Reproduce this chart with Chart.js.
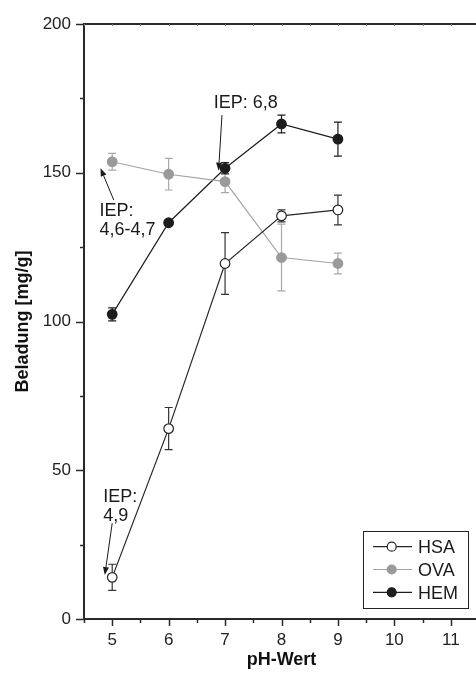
<!DOCTYPE html>
<html>
<head>
<meta charset="utf-8">
<script src="https://cdn.jsdelivr.net/npm/chart.js@4.4.1/dist/chart.umd.min.js"></script>
<style>
  html, body { margin: 0; padding: 0; background: #fff; overflow: hidden; }
  #wrap { width: 476px; height: 680px; overflow: hidden; position: relative; }
  canvas { display: block; }
</style>
</head>
<body>
<div id="wrap"><canvas id="c" width="490" height="680"></canvas></div>
<script>
// pH values and loading (Beladung, mg/g) with standard deviations
const pH = [5, 6, 7, 8, 9];
const hsa = [14, 64, 119.5, 135.5, 137.5];
const hsaErr = [4.4, 7.1, 10.4, 2, 5];
const ova = [153.7, 149.5, 147, 121.5, 119.5];
const ovaErr = [2.8, 5.3, 3.7, 11.2, 3.5];
const hem = [102.4, 133.2, 151.5, 166.4, 161.3];
const hemErr = [2.2, 0.8, 1.9, 3, 5.7];

// labelled ticks
const xTicks = [5, 6, 7, 8, 9, 10, 11];
const yTicks = [0, 50, 100, 150, 200];

// isoelectric point notes: text lines, text anchor and arrow (data units)
const notes = [
  { lines: ['IEP: 6,8'], at: [6.80, 171.7], from: [6.945, 169.4], to: [6.885, 150.7] },
  { lines: ['IEP:', '4,6-4,7'], at: [4.775, 135.5], from: [5.028, 140.8], to: [4.793, 151.5] },
  { lines: ['IEP:', '4,9'], at: [4.841, 39.4], from: [5.0, 32.2], to: [4.869, 14.8] }
];

const FONT = "'Liberation Sans', Arial, Helvetica, sans-serif";
const AXIS = '#2a2a2a';

const series = [
  { label: 'HSA', y: hsa, err: hsaErr, line: '#262626', fill: '#ffffff', edge: '#262626', bar: '#333333' },
  { label: 'OVA', y: ova, err: ovaErr, line: '#a2a2a2', fill: '#9a9a9a', edge: '#9a9a9a', bar: '#a8a8a8' },
  { label: 'HEM', y: hem, err: hemErr, line: '#1c1c1c', fill: '#1c1c1c', edge: '#1c1c1c', bar: '#1c1c1c' }
];

const datasets = series.map(s => ({
  label: s.label,
  data: pH.map((x, i) => ({ x: x, y: s.y[i] })),
  errors: s.err,
  barColor: s.bar,
  borderColor: s.line,
  borderWidth: 1.2,
  pointRadius: 4.8,
  pointHoverRadius: 4.8,
  pointBackgroundColor: s.fill,
  pointBorderColor: s.edge,
  pointBorderWidth: 1.2,
  tension: 0,
  fill: false
}));

// axis ticks (major + minor), top frame line
const framePlugin = {
  id: 'frame',
  afterDraw(chart) {
    const ctx = chart.ctx, a = chart.chartArea;
    const xs = chart.scales.x, ys = chart.scales.y;
    ctx.save();
    ctx.strokeStyle = AXIS;
    ctx.lineWidth = 2;
    ctx.beginPath();
    ctx.moveTo(a.left - 1, a.top);
    ctx.lineTo(a.right + 20, a.top);
    ctx.stroke();
    ctx.lineWidth = 1.5;
    for (let v = 4.5; v <= 11.5 + 1e-9; v += 0.5) {
      const px = Math.round(xs.getPixelForValue(v)) + 0.5;
      const major = Math.abs(v - Math.round(v)) < 1e-6;
      ctx.beginPath();
      ctx.moveTo(px, a.bottom);
      ctx.lineTo(px, a.bottom + (major ? 7 : 4));
      ctx.stroke();
      ctx.save();
      ctx.strokeStyle = '#777';
      ctx.lineWidth = 1;
      ctx.beginPath();
      ctx.moveTo(px, a.top);
      ctx.lineTo(px, a.top + 2);
      ctx.stroke();
      ctx.restore();
    }
    for (let v = 0; v <= 200; v += 25) {
      const py = Math.round(ys.getPixelForValue(v)) + 0.5;
      const major = v % 50 === 0;
      ctx.beginPath();
      ctx.moveTo(a.left, py);
      ctx.lineTo(a.left - (major ? 8 : 4), py);
      ctx.stroke();
    }
    ctx.restore();
  }
};

// vertical error bars with caps
const errorPlugin = {
  id: 'errorBars',
  beforeDatasetsDraw(chart) {
    const ctx = chart.ctx;
    const xs = chart.scales.x, ys = chart.scales.y;
    ctx.save();
    chart.data.datasets.forEach(ds => {
      ctx.strokeStyle = ds.barColor;
      ctx.lineWidth = 1.2;
      ds.data.forEach((p, i) => {
        const e = ds.errors[i];
        const px = xs.getPixelForValue(p.x);
        const top = ys.getPixelForValue(p.y + e);
        const bot = ys.getPixelForValue(p.y - e);
        ctx.beginPath();
        ctx.moveTo(px, top); ctx.lineTo(px, bot);
        ctx.moveTo(px - 4, top); ctx.lineTo(px + 4, top);
        ctx.moveTo(px - 4, bot); ctx.lineTo(px + 4, bot);
        ctx.stroke();
      });
    });
    ctx.restore();
  }
};

// IEP notes with arrows, and the boxed legend
const notesPlugin = {
  id: 'notes',
  afterDatasetsDraw(chart) {
    const ctx = chart.ctx;
    const xs = chart.scales.x, ys = chart.scales.y;
    ctx.save();
    ctx.fillStyle = '#1a1a1a';
    ctx.strokeStyle = '#1a1a1a';
    ctx.font = '18px ' + FONT;
    ctx.textAlign = 'left';
    ctx.textBaseline = 'alphabetic';
    notes.forEach(n => {
      const tx = xs.getPixelForValue(n.at[0]);
      const ty = ys.getPixelForValue(n.at[1]);
      n.lines.forEach((t, k) => ctx.fillText(t, tx, ty + k * 19.5));
      const x0 = xs.getPixelForValue(n.from[0]), y0 = ys.getPixelForValue(n.from[1]);
      const x1 = xs.getPixelForValue(n.to[0]), y1 = ys.getPixelForValue(n.to[1]);
      const ang = Math.atan2(y1 - y0, x1 - x0);
      const hl = 8, hw = 3;
      const bx = x1 - hl * Math.cos(ang), by = y1 - hl * Math.sin(ang);
      ctx.lineWidth = 1;
      ctx.beginPath();
      ctx.moveTo(x0, y0); ctx.lineTo(bx, by);
      ctx.stroke();
      ctx.beginPath();
      ctx.moveTo(x1, y1);
      ctx.lineTo(bx + hw * Math.sin(ang), by - hw * Math.cos(ang));
      ctx.lineTo(bx - hw * Math.sin(ang), by + hw * Math.cos(ang));
      ctx.closePath();
      ctx.fill();
    });

    // legend box
    const L = { x: 363.5, y: 531.5, w: 105, h: 77 };
    ctx.lineWidth = 1;
    ctx.strokeStyle = '#222';
    ctx.strokeRect(L.x, L.y, L.w, L.h);
    chart.data.datasets.forEach((ds, i) => {
      const cy = 546.7 + i * 22.8;
      ctx.strokeStyle = ds.borderColor;
      ctx.lineWidth = 1.2;
      ctx.beginPath();
      ctx.moveTo(373, cy); ctx.lineTo(412, cy);
      ctx.stroke();
      ctx.beginPath();
      ctx.arc(391.7, cy, 4.5, 0, Math.PI * 2);
      ctx.fillStyle = ds.pointBackgroundColor;
      ctx.fill();
      ctx.strokeStyle = ds.pointBorderColor;
      ctx.stroke();
      ctx.fillStyle = '#1a1a1a';
      ctx.font = '18px ' + FONT;
      ctx.textBaseline = 'middle';
      ctx.fillText(ds.label, 418, cy + 1.5);
    });
    ctx.restore();
  }
};

new Chart(document.getElementById('c'), {
  type: 'line',
  data: { datasets: datasets },
  options: {
    responsive: false,
    animation: false,
    devicePixelRatio: 1,
    layout: { padding: { left: 0, right: 11, top: 24, bottom: 0 } },
    plugins: { legend: { display: false }, tooltip: { enabled: false } },
    scales: {
      x: {
        type: 'linear',
        min: 4.5,
        max: 11.5,
        afterFit(s) { s.height = 61; },
        grid: { display: false, drawTicks: false },
        border: { display: true, color: AXIS, width: 2 },
        ticks: {
          stepSize: 0.5,
          autoSkip: false,
          maxRotation: 0,
          includeBounds: false,
          padding: 11,
          color: '#222',
          font: { family: FONT, size: 17 },
          callback: v => xTicks.includes(v) ? String(v) : ''
        },
        title: {
          display: true,
          text: 'pH-Wert',
          color: '#111',
          font: { family: FONT, size: 18, weight: 'bold' },
          padding: { top: 0, bottom: 9 }
        }
      },
      y: {
        min: 0,
        max: 200,
        afterFit(s) { s.width = 84; },
        grid: { display: false, drawTicks: false },
        border: { display: true, color: AXIS, width: 2 },
        ticks: {
          stepSize: 25,
          autoSkip: false,
          padding: 13,
          color: '#222',
          font: { family: FONT, size: 17 },
          callback: v => yTicks.includes(v) ? String(v) : ''
        },
        title: {
          display: true,
          text: 'Beladung [mg/g]',
          color: '#111',
          font: { family: FONT, size: 18, weight: 'bold' },
          padding: { top: 12, bottom: 0 }
        }
      }
    }
  },
  plugins: [errorPlugin, framePlugin, notesPlugin]
});
</script>
</body>
</html>
